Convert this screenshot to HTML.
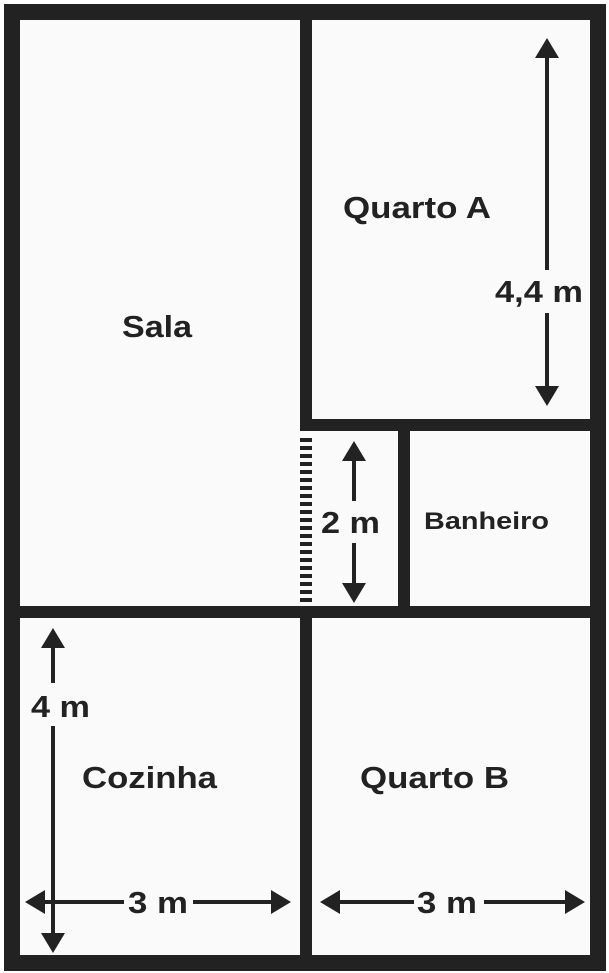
<!DOCTYPE html>
<html><head><meta charset="utf-8"><style>
html,body{margin:0;padding:0;background:#fff;}
svg{display:block;}
text{font-family:"Liberation Sans",Arial,sans-serif;font-weight:bold;fill:#222;}
</style></head><body>
<svg width="609" height="973" viewBox="0 0 609 973" xmlns="http://www.w3.org/2000/svg">
<rect x="0" y="0" width="609" height="973" fill="#fff"/>
<!-- outer frame -->
<rect x="4" y="4" width="602" height="967" fill="#222"/>
<rect x="20" y="20" width="570" height="935" fill="#fafafa"/>
<!-- vertical wall top -->
<rect x="300" y="20" width="12" height="411" fill="#222"/>
<!-- quarto A bottom wall -->
<rect x="300" y="419" width="290" height="12" fill="#222"/>
<!-- banheiro wall -->
<rect x="398" y="431" width="12" height="176" fill="#222"/>
<!-- horizontal wall -->
<rect x="20" y="606" width="570" height="12" fill="#222"/>
<!-- lower vertical wall -->
<rect x="300" y="606" width="12" height="349" fill="#222"/>
<!-- dashed door -->
<line x1="306" y1="438" x2="306" y2="606" stroke="#222" stroke-width="12" stroke-dasharray="4,4"/>

<g fill="#222" stroke="none">
<!-- 4,4 m arrow -->
<polygon points="547,38 535,58 559,58"/>
<rect x="545" y="56" width="4" height="214"/>
<rect x="545" y="313" width="4" height="75"/>
<polygon points="547,406 535,386 559,386"/>
<!-- 2 m arrow -->
<polygon points="354,441 342,461 366,461"/>
<rect x="352" y="459" width="4" height="42"/>
<rect x="352" y="543" width="4" height="42"/>
<polygon points="354,603 342,583 366,583"/>
<!-- 4 m arrow -->
<polygon points="53,628 41,648 65,648"/>
<rect x="51" y="646" width="4" height="37"/>
<rect x="51" y="726" width="4" height="210"/>
<polygon points="53,953 41,933 65,933"/>
<!-- 3 m left -->
<polygon points="25,902 45,890 45,914"/>
<rect x="43" y="900" width="81" height="4"/>
<rect x="193" y="900" width="80" height="4"/>
<polygon points="291,902 271,890 271,914"/>
<!-- 3 m right -->
<polygon points="320,902 340,890 340,914"/>
<rect x="338" y="900" width="76" height="4"/>
<rect x="484" y="900" width="83" height="4"/>
<polygon points="585,902 565,890 565,914"/>
</g>

<text x="122" y="337" font-size="31" textLength="70" lengthAdjust="spacingAndGlyphs">Sala</text>
<text x="343" y="218" font-size="31" textLength="148" lengthAdjust="spacingAndGlyphs">Quarto A</text>
<text x="495" y="302" font-size="31" textLength="88" lengthAdjust="spacingAndGlyphs">4,4 m</text>
<text x="321" y="533" font-size="31" textLength="59" lengthAdjust="spacingAndGlyphs">2 m</text>
<text x="424" y="529" font-size="24" textLength="125" lengthAdjust="spacingAndGlyphs">Banheiro</text>
<text x="31" y="717" font-size="31" textLength="59" lengthAdjust="spacingAndGlyphs">4 m</text>
<text x="82" y="788" font-size="31" textLength="135" lengthAdjust="spacingAndGlyphs">Cozinha</text>
<text x="360" y="788" font-size="31" textLength="149" lengthAdjust="spacingAndGlyphs">Quarto B</text>
<text x="128" y="913" font-size="31" textLength="60" lengthAdjust="spacingAndGlyphs">3 m</text>
<text x="417" y="913" font-size="31" textLength="60" lengthAdjust="spacingAndGlyphs">3 m</text>
</svg>
</body></html>
